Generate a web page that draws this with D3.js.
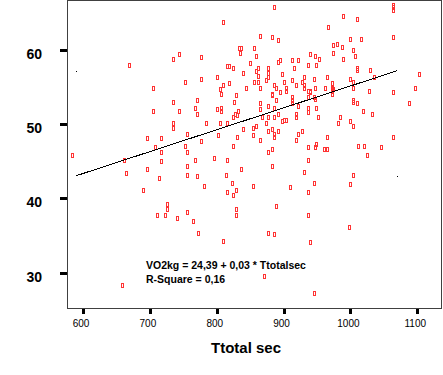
<!DOCTYPE html>
<html>
<head>
<meta charset="utf-8">
<script src="https://cdn.jsdelivr.net/npm/d3@7"></script>
<style>
  html, body { margin: 0; padding: 0; background: #fff; }
  svg { display: block; }
</style>
</head>
<body>
<div id="figure"></div>
<script>
'use strict';

// Ttotal sec values
const ttotal = [
  669, 695, 584, 662, 665, 695, 690, 659,
  885, 810, 864, 883, 891, 834, 837, 835, 856, 858, 744, 734, 777, 850, 891, 895, 912, 922,
  816, 819, 825, 861, 840, 859, 861, 876, 876, 876, 915, 897,
  704, 752, 777, 801, 810, 805, 819, 807, 856, 862, 874, 885, 889, 844, 865, 901, 912, 919,
  904, 903, 894, 882, 883, 888, 912, 912, 912, 829, 826, 771, 735,
  704, 744, 768, 771, 801, 807, 807, 832, 825, 828, 831, 864, 864, 876, 885, 876, 867, 885,
  891, 921, 918, 918, 898, 901, 904, 735, 735, 784, 805, 816, 840, 858, 855, 874, 876, 882,
  885, 885, 891, 855, 864, 831, 802, 755, 717, 777, 752, 708, 825, 882, 921, 919,
  755, 717, 717, 876, 768, 796, 816, 755, 837, 883, 714, 755, 771, 814, 781, 823, 855, 909,
  816, 829, 825, 726, 726, 710, 722, 740, 755, 765, 829, 829, 889, 772, 810, 876, 885,
  1064, 1064, 1064, 989, 1010, 967, 1064, 1000, 1016, 974, 980, 988, 1004, 974, 939, 947, 953,
  989, 1007, 936, 949, 1010, 1010, 1030, 1102, 930, 946, 965, 1000, 1004, 1036, 927, 930, 930,
  973, 973, 973, 974, 973, 947, 962, 936, 939, 940, 1004, 1028, 1064, 1096, 936, 946, 947,
  1004, 1004, 1010, 1088, 936, 936, 949, 1019, 1033, 952, 985, 982, 1000, 1004, 927, 965, 1064,
  936, 949, 947, 961, 965, 1012, 1021, 1046,
  1025, 936, 930, 1004, 946, 1000, 936, 936, 998, 940,
  870, 946
];

// VO2kg values, same order
const vo2kg = [
  58.0, 48.1, 45.9, 45.1, 43.4, 43.9, 41.1, 28.3,
  65.7, 63.7, 61.8, 61.7, 61.3, 60.3, 60.3, 59.6, 60.3, 59.1, 59.4, 58.7, 59.0, 58.2, 58.4, 58.6, 58.6, 58.6,
  57.8, 57.8, 57.5, 57.6, 56.9, 57.1, 56.5, 57.5, 56.9, 56.4, 57.5, 56.8,
  54.9, 55.6, 56.1, 56.3, 55.2, 54.7, 55.5, 54.0, 55.6, 55.7, 55.9, 55.3, 54.8, 54.9, 54.8, 55.7, 55.9, 55.2,
  54.9, 54.5, 54.3, 53.9, 54.1, 53.3, 53.6, 53.2, 52.9, 53.9, 53.0, 53.3, 53.0,
  51.8, 51.7, 52.2, 51.3, 52.0, 52.1, 51.8, 51.8, 51.0, 51.3, 51.2, 52.8, 52.0, 52.4, 52.2, 51.0, 50.9, 51.0,
  51.4, 52.4, 51.4, 50.9, 50.4, 50.5, 50.6, 50.1, 49.5, 50.1, 50.2, 50.1, 49.4, 49.7, 49.5, 50.1, 49.1, 49.3,
  48.7, 48.3, 49.0, 48.5, 47.9, 48.2, 48.5, 48.7, 48.1, 47.7, 47.0, 46.9, 47.0, 46.7, 48.7, 47.8,
  46.3, 46.2, 45.0, 46.3, 45.1, 45.4, 45.2, 44.3, 43.9, 44.3, 42.7, 43.1, 43.0, 43.1, 41.7, 42.0, 41.7, 41.5,
  40.8, 41.1, 40.5, 39.3, 38.6, 37.7, 37.8, 37.3, 38.1, 37.0, 38.5, 37.8, 38.9, 35.3, 34.3, 35.3, 35.2,
  66.0, 65.7, 65.3, 64.6, 64.2, 63.1, 61.7, 61.4, 61.5, 60.6, 60.8, 60.4, 60.0, 59.5, 59.4, 59.1, 58.8,
  58.7, 59.1, 58.0, 58.0, 57.6, 57.3, 57.3, 56.8, 56.3, 56.1, 56.4, 56.0, 55.7, 56.3, 55.6, 55.3, 54.8,
  55.5, 54.9, 54.5, 54.7, 54.1, 54.9, 54.9, 54.5, 54.4, 54.3, 54.9, 54.5, 54.3, 54.8, 53.6, 53.7, 53.4,
  53.3, 53.0, 52.8, 52.9, 52.2, 51.6, 52.1, 51.8, 51.3, 50.9, 50.9, 50.2, 50.4, 49.7, 49.0, 48.3, 48.3,
  46.9, 47.3, 46.9, 46.7, 46.7, 47.1, 47.1, 46.9,
  45.9, 45.2, 43.6, 43.2, 42.0, 41.9, 40.8, 37.7, 36.2, 34.1,
  29.6, 27.2
];

const xTicks = [600, 700, 800, 900, 1000, 1100];
const yTicks = [30, 40, 50, 60];

// fitted line as drawn
const fitIntercept = 25.68;
const fitSlope = 0.02944;
const fitRange = [590, 1070];

const equationText = ['VO2kg = 24,39 + 0,03 * Ttotalsec', 'R-Square = 0,16'];
const xTitle = 'Ttotal sec';

const width = 443;
const height = 375;
const plot = { left: 67, right: 442, top: 0, bottom: 309 };
const red = '#ff3333';

const svg = d3.select('#figure')
  .append('svg')
  .attr('width', width)
  .attr('height', height)
  .attr('viewBox', [0, 0, width, height]);

svg.append('rect')
  .attr('width', width)
  .attr('height', height)
  .attr('fill', '#fff');

const x = d3.scaleLinear()
  .domain([576, 1137])
  .range([plot.left, plot.right]);

const y = d3.scaleLinear()
  .domain([25.1, 66.7])
  .range([plot.bottom, plot.top]);

// frame
svg.append('rect')
  .attr('x', plot.left + 0.5)
  .attr('y', plot.top + 0.5)
  .attr('width', plot.right - plot.left - 1)
  .attr('height', plot.bottom - plot.top - 1)
  .attr('fill', 'none')
  .attr('stroke', '#404040')
  .attr('stroke-width', 1)
  .attr('shape-rendering', 'crispEdges');

// y axis
const yAxis = svg.append('g')
  .attr('transform', `translate(${plot.left}, 0)`)
  .call(d3.axisLeft(y).tickValues(yTicks).tickSize(7).tickPadding(18));
yAxis.select('.domain').remove();
yAxis.selectAll('.tick line')
  .attr('stroke', '#000')
  .attr('stroke-width', 3)
  .attr('shape-rendering', 'crispEdges');
yAxis.selectAll('.tick text')
  .attr('dy', 8.5)
  .attr('fill', '#000')
  .style('font-family', '"Liberation Sans", Arial, sans-serif')
  .style('font-size', '14px')
  .style('font-weight', 'bold');

// x axis
const xAxis = svg.append('g')
  .attr('transform', `translate(0, ${plot.bottom})`)
  .call(d3.axisBottom(x).tickValues(xTicks).tickSize(5).tickFormat(d3.format('d')));
xAxis.select('.domain').remove();
xAxis.selectAll('.tick line')
  .attr('stroke', '#000')
  .attr('stroke-width', 3)
  .attr('shape-rendering', 'crispEdges');
xAxis.selectAll('.tick text')
  .attr('y', 18)
  .attr('dy', 0)
  .attr('dx', -2.5)
  .attr('fill', '#000')
  .style('font-family', '"Liberation Sans", Arial, sans-serif')
  .style('font-size', '10px');

svg.append('text')
  .attr('x', 246)
  .attr('y', 352.5)
  .attr('text-anchor', 'middle')
  .style('font-family', '"Liberation Sans", Arial, sans-serif')
  .style('font-size', '15px')
  .style('font-weight', 'bold')
  .text(xTitle);

// points
svg.append('g')
  .selectAll('rect')
  .data(d3.zip(ttotal, vo2kg))
  .join('rect')
  .attr('x', d => Math.round(x(d[0])) - 0.5)
  .attr('y', d => Math.round(y(d[1])) - 1.5)
  .attr('width', 2)
  .attr('height', 4)
  .attr('fill', 'none')
  .attr('stroke', red)
  .attr('stroke-width', 1)
  .attr('shape-rendering', 'crispEdges');

// fit line
const fit = v => fitIntercept + fitSlope * v;
const line = d3.line()
  .x(d => x(d))
  .y(d => y(fit(d)));

svg.append('path')
  .datum(fitRange)
  .attr('d', line)
  .attr('fill', 'none')
  .attr('stroke', '#000')
  .attr('stroke-width', 1)
  .attr('shape-rendering', 'crispEdges');

// corner dots of the fit box
svg.append('g')
  .selectAll('rect')
  .data([[fitRange[0], fit(fitRange[1])], [fitRange[1], fit(fitRange[0])]])
  .join('rect')
  .attr('x', d => Math.round(x(d[0])))
  .attr('y', d => Math.round(y(d[1])))
  .attr('width', 1)
  .attr('height', 1)
  .attr('fill', '#000');

svg.append('g')
  .selectAll('text')
  .data(equationText)
  .join('text')
  .attr('x', 146)
  .attr('y', (d, i) => 268.5 + i * 14)
  .style('font-family', '"Liberation Sans", Arial, sans-serif')
  .style('font-size', '10.5px')
  .style('font-weight', 'bold')
  .text(d => d);
</script>
</body>
</html>
